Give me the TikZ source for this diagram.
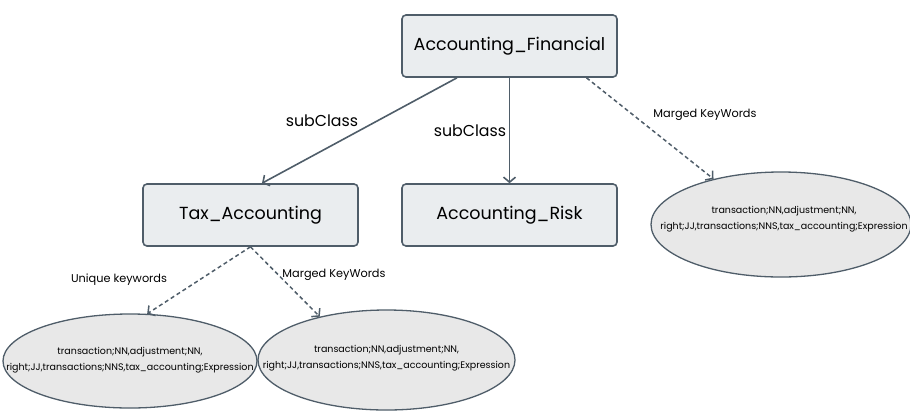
\documentclass[tikz,border=0pt]{standalone}
\usepackage{fontspec}
\setmainfont{Poppins}
\usetikzlibrary{arrows.meta,shapes.geometric,positioning}
\definecolor{edgecol}{HTML}{4F5D69}
\definecolor{boxfill}{HTML}{EAEDEF}
\definecolor{ovalfill}{HTML}{E8E8E8}
\tikzset{
  classbox/.style={draw=edgecol, line width=1.6pt, fill=boxfill, rounded corners=4pt,
    minimum width=215pt, minimum height=62pt, font=\fontsize{17.5}{20}\selectfont},
  keyoval/.style={draw=edgecol, line width=1.3pt, fill=ovalfill, ellipse, inner sep=0pt},
  ovaltext/.style={align=center, font=\fontsize{9.5}{16}\selectfont},
  relarrow/.style={draw=edgecol, line width=1.6pt, -{Straight Barb[length=5pt,width=12pt]}},
  keyarrow/.style={relarrow, dash pattern=on 4pt off 3pt, line width=1.5pt},
  biglabel/.style={font=\fontsize{15.8}{18}\selectfont},
  smalllabel/.style={font=\fontsize{11.3}{13}\selectfont}
}
\begin{document}
\begin{tikzpicture}[x=1pt,y=-1pt]
  \useasboundingbox (0,0) rectangle (910,416);
  % class boxes
  \node[classbox] (fin) at (509.5,46) {Accounting\_Financial};
  \node[classbox] (tax) at (250.5,215) {Tax\_Accounting};
  \node[classbox] (risk) at (509.5,215) {Accounting\_Risk};
  % keyword ovals
  \node[keyoval, minimum width=260pt, minimum height=105pt] (kwR) at (781,224.5) {};
  \node[keyoval, minimum width=254pt, minimum height=94pt] (kwL) at (130,361) {};
  \node[keyoval, minimum width=257pt, minimum height=100pt] (kwM) at (386.5,360) {};
  \node[ovaltext] (txtR) at (784,219) {transaction;NN,adjustment;NN,\\right;JJ,transactions;NNS,tax\_accounting;Expression};
  \node[ovaltext] (txtL) at (130,360) {transaction;NN,adjustment;NN,\\right;JJ,transactions;NNS,tax\_accounting;Expression};
  \node[ovaltext] (txtM) at (386.5,358) {transaction;NN,adjustment;NN,\\right;JJ,transactions;NNS,tax\_accounting;Expression};
  % connectors
  \draw[relarrow] ([xshift=-52.5pt]fin.south) -- ([xshift=11.5pt]tax.north);
  \draw[relarrow] (fin.south) -- (risk.north);
  \draw[keyarrow] ([xshift=77pt]fin.south) -- (kwR.146);
  \draw[keyarrow] (tax.south) -- (kwL.70);
  \draw[keyarrow] (tax.south) -- (kwM.147);
  % connector labels
  \node[biglabel] (subA) at (322,121) {subClass};
  \node[biglabel] (subB) at (470,131) {subClass};
  \node[smalllabel] (mergeR) at (705,115) {Marged KeyWords};
  \node[smalllabel] (uniq) at (119,280) {Unique keywords};
  \node[smalllabel] (mergeM) at (334,275) {Marged KeyWords};
\end{tikzpicture}
\end{document}
